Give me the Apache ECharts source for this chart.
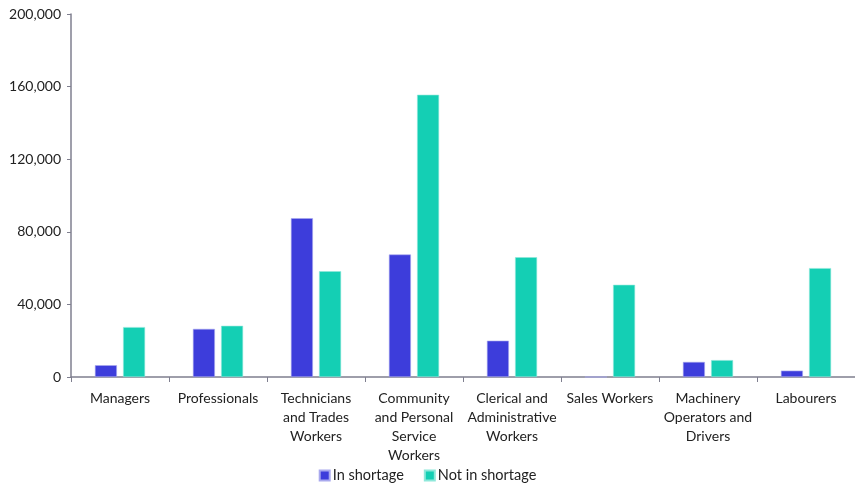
<!DOCTYPE html>
<html>
<head>
<meta charset="utf-8">
<script src="https://cdn.jsdelivr.net/npm/echarts@6/dist/echarts.min.js"></script>
<style>
  html, body { margin: 0; padding: 0; background: #fff; }
  #chart { width: 855px; height: 485px; }
</style>
</head>
<body>
<div id="chart"></div>
<script>
  // occupation groups
  const categories = [
    'Managers',
    'Professionals',
    'Technicians\nand Trades\nWorkers',
    'Community\nand Personal\nService\nWorkers',
    'Clerical and\nAdministrative\nWorkers',
    'Sales Workers',
    'Machinery\nOperators and\nDrivers',
    'Labourers'
  ];
  const inShortage = [6500, 26500, 87500, 67500, 20000, 0, 8300, 3500];
  const notInShortage = [27500, 28200, 58300, 155500, 66000, 50800, 9300, 60000];

  const fontFamily = 'Lato, "Open Sans", sans-serif';

  const chart = echarts.init(document.getElementById('chart'));
  const option = {
    animation: false,
    textStyle: { fontFamily: fontFamily },
    grid: { left: 71, right: 0, top: 14, bottom: 108, containLabel: false },
    legend: {
      bottom: -3,
      left: 'center',
      itemWidth: 10,
      itemHeight: 10,
      itemGap: 20,
      icon: 'rect',
      textStyle: { fontSize: 14.5, color: '#222', fontFamily: fontFamily, padding: [0, 0, 0, -2] }
    },
    xAxis: {
      type: 'category',
      data: categories,
      axisLine: { lineStyle: { color: '#7f7f8f', width: 1.5 } },
      axisTick: { show: true, alignWithLabel: false, length: 5, lineStyle: { color: '#7f7f8f' } },
      axisLabel: { interval: 0, fontSize: 14, color: '#222', lineHeight: 19, margin: 12 },
      splitLine: { show: false }
    },
    yAxis: {
      type: 'value',
      min: 0,
      max: 200000,
      interval: 40000,
      axisLine: { show: true, lineStyle: { color: '#7f7f8f', width: 1.5 } },
      axisTick: { show: true, length: 4, lineStyle: { color: '#7f7f8f' } },
      axisLabel: {
        fontSize: 14,
        color: '#222',
        margin: 10,
        formatter: v => v.toLocaleString('en-US')
      },
      splitLine: { show: false }
    },
    series: [
      {
        name: 'In shortage',
        type: 'bar',
        data: inShortage,
        barWidth: 22,
        barGap: '28%',
        itemStyle: { color: '#3d3ddb', borderColor: '#a9a9ee', borderWidth: 0.6 }
      },
      {
        name: 'Not in shortage',
        type: 'bar',
        data: notInShortage,
        barWidth: 22,
        itemStyle: { color: '#14cfb4', borderColor: '#8ee8da', borderWidth: 0.6 }
      }
    ]
  };
  chart.setOption(option);
</script>
</body>
</html>
